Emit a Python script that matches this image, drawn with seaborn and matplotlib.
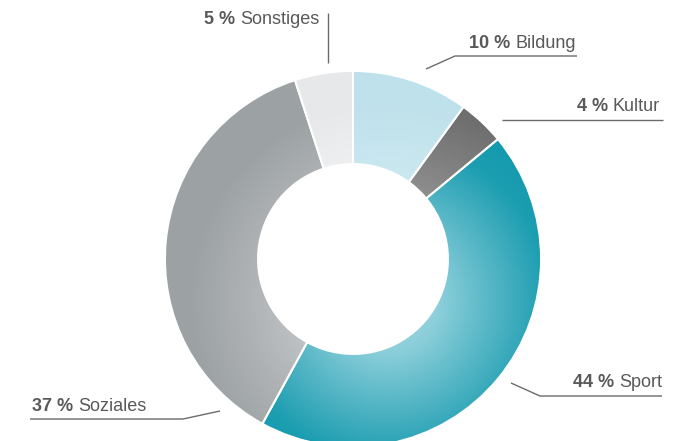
import numpy as np
import pandas as pd
import matplotlib
matplotlib.use("Agg")
import matplotlib.pyplot as plt
from matplotlib.colors import LinearSegmentedColormap
import seaborn as sns

# Budget split by area, clockwise from twelve o'clock
categories = ["Bildung", "Kultur", "Sport", "Soziales", "Sonstiges"]
shares = [10, 4, 44, 37, 5]

# Colour stops of the radial shading for each segment
shade_stops = {
    "Bildung":   [(0.0, "#d6edf4"), (0.6, "#cbe8f0"), (1.0, "#bfe1eb")],
    "Kultur":    [(0.0, "#ababab"), (0.55, "#8e8e8e"), (1.0, "#6e6e6e")],
    "Sport":     [(0.0, "#a4d9e2"), (0.25, "#8ccfda"), (0.55, "#4fb3c3"),
                  (0.8, "#1c9eb1"), (1.0, "#1298ac")],
    "Soziales":  [(0.0, "#d0d2d4"), (0.45, "#c0c3c5"), (0.7, "#aeb2b4"),
                  (1.0, "#9ca1a4")],
    "Sonstiges": [(0.0, "#f3f4f5"), (0.7, "#eeeff0"), (1.0, "#e7e8e9")],
}

# Callout layout (pixel space): text anchor, alignment and leader polyline
callouts = {
    "Sonstiges": dict(xy=(319, 24), ha="right", line=[(328, 13), (328, 63)]),
    "Bildung":   dict(xy=(576, 48), ha="right", line=[(426, 69), (455, 56), (577, 56)]),
    "Kultur":    dict(xy=(660, 111), ha="right", line=[(502, 120), (663, 120)]),
    "Sport":     dict(xy=(662, 387), ha="right", line=[(511, 383), (540, 396), (662, 396)]),
    "Soziales":  dict(xy=(32, 411), ha="left", line=[(30, 419), (183, 419), (220, 411)]),
}

df = pd.DataFrame({"category": categories, "share": shares})

sns.set_theme(style="white")
plt.rcParams["font.family"] = ["Liberation Sans", "DejaVu Sans"]

W, H = 682, 441
fig = plt.figure(figsize=(W / 100, H / 100), dpi=100)
ax = fig.add_axes([0, 0, 1, 1])

center = (353, 259)
outer_r = 188
inner_r = 95

wedges, _ = ax.pie(
    df["share"], center=center, radius=outer_r,
    startangle=-90, counterclock=True,
    wedgeprops=dict(width=outer_r - inner_r),
)

# radial highlight slightly below-right of the ring centre
yy, xx = np.mgrid[0:H, 0:W] + 0.5
focal = (388, 300)
t = np.clip(np.hypot(xx - focal[0], yy - focal[1]) / 200.0, 0, 1)

for wedge, cat in zip(wedges, df["category"]):
    cmap = LinearSegmentedColormap.from_list(cat, shade_stops[cat])
    im = ax.imshow(cmap(t), extent=(0, W, H, 0), origin="upper",
                   interpolation="bilinear", zorder=1)
    im.set_clip_path(wedge)
    wedge.set_facecolor("none")
    wedge.set_edgecolor("white")
    wedge.set_linewidth(1.4)
    wedge.set_zorder(2)

ax.set_xlim(0, W)
ax.set_ylim(H, 0)
ax.set_aspect("equal")
ax.axis("off")

text_color = "#595959"
line_color = "#6b6b6b"
fs = 13
gap = 5

renderer = fig.canvas.get_renderer()
inv = ax.transData.inverted()

for cat, share in zip(df["category"], df["share"]):
    c = callouts[cat]
    xs, ys = zip(*c["line"])
    ax.plot(xs, ys, color=line_color, lw=1.0, solid_capstyle="butt", zorder=3)
    x, y = c["xy"]
    bold_txt = f"{share} %"
    if c["ha"] == "right":
        t_name = ax.text(x, y, cat, ha="right", va="baseline",
                         fontsize=fs, color=text_color, zorder=4)
        bb = t_name.get_window_extent(renderer)
        x0 = inv.transform((bb.x0, bb.y0))[0]
        ax.text(x0 - gap, y, bold_txt, ha="right", va="baseline",
                fontsize=fs, fontweight="bold", color=text_color, zorder=4)
    else:
        t_num = ax.text(x, y, bold_txt, ha="left", va="baseline",
                        fontsize=fs, fontweight="bold", color=text_color, zorder=4)
        bb = t_num.get_window_extent(renderer)
        x1 = inv.transform((bb.x1, bb.y0))[0]
        ax.text(x1 + gap, y, cat, ha="left", va="baseline",
                fontsize=fs, color=text_color, zorder=4)

fig.savefig("out.png", dpi=100, facecolor="white")
